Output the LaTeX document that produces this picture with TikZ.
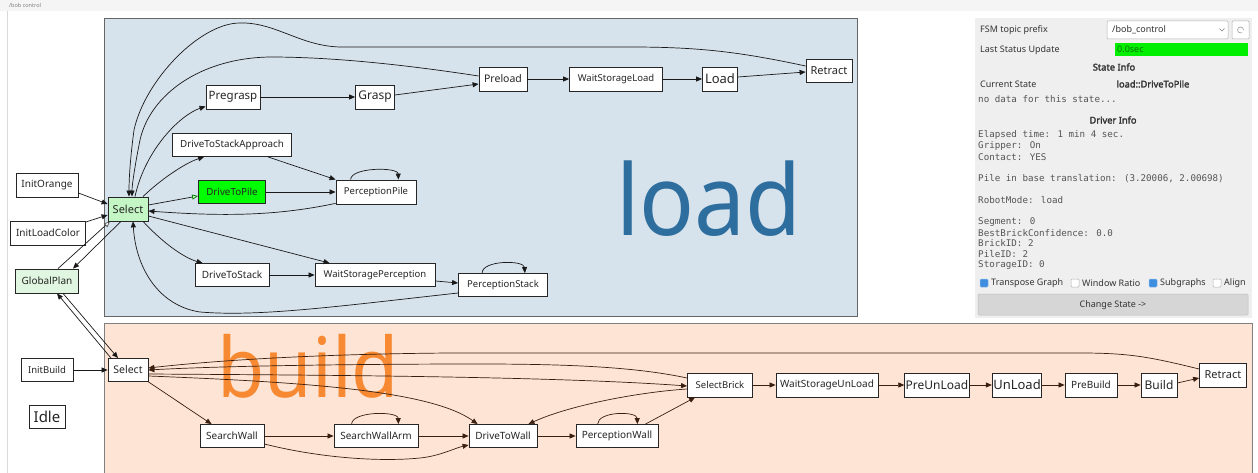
\documentclass[tikz,border=0pt]{standalone}
\usepackage{fontspec}
\setmainfont{Noto Sans}
\newfontfamily\monof{DejaVu Sans Mono}
\newfontfamily\fbold{Noto Sans}[FakeBold=2.2]
\usepackage{graphicx}
\usetikzlibrary{arrows.meta}
\newcommand\fsz[1]{\fontsize{#1}{#1}\selectfont}
\definecolor{loadbg}{HTML}{D6E2EC}
\definecolor{buildbg}{HTML}{FDE4D4}
\definecolor{panelbg}{HTML}{EFEFEF}
\definecolor{loadtxt}{HTML}{2E6E9E}
\definecolor{buildtxt}{HTML}{F7852A}
\definecolor{edgeb}{HTML}{3A1E0E}
\definecolor{selg}{HTML}{C4F5C4}
\definecolor{gpg}{HTML}{E0F6E0}
\definecolor{dtpg}{HTML}{00FF00}
\definecolor{statg}{HTML}{00EE00}
\definecolor{ptxt}{HTML}{333333}
\definecolor{mtxt}{HTML}{555555}
\definecolor{chk}{HTML}{3D8EE0}
\tikzset{
  st/.style={draw=black!85, fill=white, line width=0.8pt, inner sep=1pt,
    minimum height=24pt, font=\fsz{10}, text=black!85},
  e/.style={-{Triangle[length=6pt,width=5pt]}, line width=0.7pt, draw=black!90},
  eb/.style={-{Triangle[length=6pt,width=5pt]}, line width=0.7pt, draw=edgeb},
  ptx/.style={anchor=west, inner sep=0pt, font=\fsz{9}, text=ptxt},
  mtx/.style={anchor=west, inner sep=0pt, font=\monof\fsz{9.2}, text=mtxt},
  bld/.style={inner sep=0pt, font=\fbold\fsz{9.3}, text=ptxt},
  cbx/.style={draw=gray!60, fill=white, line width=0.5pt, rounded corners=1pt},
  cbon/.style={draw=chk!60, fill=chk, line width=0.5pt, rounded corners=1pt}
}
\begin{document}
\begin{tikzpicture}[x=1pt,y=-1pt]
\useasboundingbox (0,0) rectangle (1258,473);
\fill[white] (0,0) rectangle (1258,473);
% title bar
\fill[gray!8] (0,0) rectangle (1258,11);
\node[anchor=west, inner sep=0pt, font=\fsz{5.5}, text=gray] (title) at (9,5.5) {/bob control};
\draw[gray!30, line width=0.6pt] (7,11) -- (7,473);
% clusters
\draw[fill=loadbg, draw=black!60, line width=0.8pt] (104,18) rectangle (857,316);
\draw[fill=buildbg, draw=black!50, line width=0.8pt] (104,323) rectangle (1252,480);
\node[anchor=base west, inner sep=0pt, text=loadtxt, font=\fsz{91}] (loadlbl) at (616,236) {\scalebox{1}[1.08]{load}};
\node[anchor=base west, inner sep=0pt, text=buildtxt, opacity=0.95, font=\fsz{77}] (buildlbl) at (217,397) {\scalebox{1}[1.08]{build}};

% right panel
\fill[panelbg] (975,18) rectangle (1252,318);
\node[ptx] (fsm) at (980,30) {FSM topic prefix};
\draw[cbx] (1107,21) rectangle (1228,39);
\node[ptx] (topic) at (1112,30) {/bob\_control};
\draw[gray, line width=0.5pt] (1219.5,28.5) -- (1222,31) -- (1224.5,28.5);
\draw[cbx] (1232,21) rectangle (1249,39);
\draw[gray!80, line width=0.6pt] (1243.5,30) arc (0:300:3pt);
\node[ptx] (lsu) at (980,50) {Last Status Update};
\fill[statg] (1115,43) rectangle (1248,56);
\node[ptx, text=green!45!black] (sec) at (1117,49.5) {0.0sec};
\node[bld] (si) at (1114,67) {State Info};
\node[ptx] (cs) at (980,84) {Current State};
\node[bld] (cst) at (1153,84) {load::DriveToPile};
\node[mtx] (nd) at (978,99.5) {no data for this state...};
\node[bld] (di) at (1113,120) {Driver Info};
\node[mtx] (m1) at (978,135) {Elapsed time: 1 min 4 sec.};
\node[mtx] (m2) at (978,146) {Gripper: On};
\node[mtx] (m3) at (978,157) {Contact: YES};
\node[mtx] (m4) at (978,179) {Pile in base translation: (3.20006, 2.00698)};
\node[mtx] (m5) at (978,200) {RobotMode: load};
\node[mtx] (m6) at (978,222) {Segment: 0};
\node[mtx] (m7) at (978,232.7) {BestBrickConfidence: 0.0};
\node[mtx] (m8) at (978,243.4) {BrickID: 2};
\node[mtx] (m9) at (978,254.1) {PileID: 2};
\node[mtx] (m10) at (978,264.8) {StorageID: 0};
\draw[cbon] (980,279) rectangle (988,287);
\node[ptx] (c1) at (991,283) {Transpose Graph};
\draw[cbx] (1071,279) rectangle (1079,287);
\node[ptx] (c2) at (1082,283) {Window Ratio};
\draw[cbon] (1149,279) rectangle (1157,287);
\node[ptx] (c3) at (1160,283) {Subgraphs};
\draw[cbx] (1213,279) rectangle (1221,287);
\node[ptx] (c4) at (1224,283) {Align};
\draw[fill=gray!32, draw=gray!50, line width=0.5pt, rounded corners=1pt] (978,294) rectangle (1248,315);
\node[inner sep=0pt, font=\fsz{9}, text=ptxt] (chg) at (1113,305) {Change State ->};

% load cluster nodes
\node[st, fill=selg, minimum width=40pt, font=\fsz{11}] (lsel) at (128,209) {Select};
\node[st, minimum width=54pt, font=\fsz{11.5}] (pregrasp) at (233,97) {Pregrasp};
\node[st, minimum width=39pt, font=\fsz{12}] (grasp) at (375,97) {Grasp};
\node[st, minimum width=48pt, font=\fsz{10.5}] (preload) at (503,79) {Preload};
\node[st, minimum width=93pt, font=\fsz{9.5}] (wsl) at (616,79) {WaitStorageLoad};
\node[st, minimum width=35pt, font=\fsz{13}] (load) at (720,79) {Load};
\node[st, minimum width=46pt, minimum height=23pt, font=\fsz{11}] (lretract) at (829,71) {Retract};
\node[st, minimum width=119pt, minimum height=23pt, font=\fsz{9.8}] (dtsa) at (232,145) {DriveToStackApproach};
\node[st, fill=dtpg, minimum width=67pt, minimum height=23pt, font=\fsz{9.8}] (dtp) at (232,192) {DriveToPile};
\node[st, minimum width=80pt, font=\fsz{9.5}] (ppile) at (376,192) {PerceptionPile};
\node[st, minimum width=74pt, minimum height=23pt, font=\fsz{10}] (dts) at (232,275) {DriveToStack};
\node[st, minimum width=120pt, minimum height=23pt, font=\fsz{9.5}] (wsp) at (375,275) {WaitStoragePerception};
\node[st, minimum width=89pt, minimum height=23pt, font=\fsz{9.5}] (pstack) at (503,285) {PerceptionStack};

% outside nodes
\node[st, minimum width=62pt, font=\fsz{10}] (initorange) at (47,185) {InitOrange};
\node[st, minimum width=75pt, font=\fsz{10}] (initloadcolor) at (48,233) {InitLoadColor};
\node[st, fill=gpg, minimum width=63pt, font=\fsz{10}] (globalplan) at (47,281) {GlobalPlan};
\node[st, minimum width=52pt, minimum height=23pt, font=\fsz{9.5}] (initbuild) at (47,370) {InitBuild};
\node[st, minimum width=36pt, minimum height=23pt, font=\fsz{15}] (idle) at (47,417) {Idle};

% build nodes
\node[st, minimum width=40pt, minimum height=23pt, font=\fsz{10.5}] (bsel) at (128,370) {Select};
\node[st, minimum width=64pt, minimum height=23pt, font=\fsz{10}] (searchwall) at (232,436) {SearchWall};
\node[st, minimum width=84pt, minimum height=23pt, font=\fsz{10}] (swa) at (376,436) {SearchWallArm};
\node[st, minimum width=68pt, minimum height=23pt, font=\fsz{10}] (dtw) at (503,436) {DriveToWall};
\node[st, minimum width=82pt, minimum height=23pt, font=\fsz{10}] (pwall) at (617,436) {PerceptionWall};
\node[st, minimum width=65pt, font=\fsz{9.5}] (selbrick) at (720,385) {SelectBrick};
\node[st, minimum width=102pt, font=\fsz{10}] (wsu) at (827,385) {WaitStorageUnLoad};
\node[st, minimum width=64pt, font=\fsz{12}] (preunload) at (937,385) {PreUnLoad};
\node[st, minimum width=47pt, font=\fsz{13}] (unload) at (1017,385) {UnLoad};
\node[st, minimum width=52pt, font=\fsz{10}] (prebuild) at (1091,385) {PreBuild};
\node[st, minimum width=36pt, font=\fsz{12}] (build) at (1159,385) {Build};
\node[st, minimum width=47pt, font=\fsz{11}] (bretract) at (1223,375) {Retract};

% load edges
\draw[e] ([yshift=5pt]lretract.west) .. controls (740,52) and (700,47) .. (630,47) -- (340,47)
  .. controls (300,46) and (275,22) .. (240,23) .. controls (200,23) and (145,80) .. (134,130)
  .. controls (130,160) and (129,180) .. ([xshift=1pt]lsel.north);
\draw[e] ([yshift=3pt]preload.west) .. controls (400,64) and (330,57) .. (270,57)
  .. controls (200,58) and (150,95) .. (140,140) .. controls (135,165) and (132,185) .. ([xshift=4pt]lsel.north);
\draw[e] ([xshift=7pt]lsel.north) .. controls (145,150) and (180,115) .. ([yshift=3pt]pregrasp.south west);
\draw[e] ([xshift=15pt]lsel.north) .. controls (160,180) and (185,163) .. ([xshift=32pt]dtsa.south west);
\draw[line width=0.7pt, draw=black!90, -{Triangle[length=6pt,width=5pt,fill=green!25,color=green!45!black]}] ([yshift=4pt]lsel.east) -- ([yshift=-4pt]dtp.west);
\draw[e] ([yshift=1pt]ppile.south west) .. controls (280,215) and (230,217) .. ([yshift=-2pt]lsel.east);
\draw[e] ([xshift=-24pt]dtsa.south east) -- (ppile.north west);
\draw[e] (dtp.east) -- (ppile.west);
\draw[e] ([xshift=15pt]ppile.north west) .. controls (351,167) and (398,167) .. ([xshift=-18pt]ppile.north east);
\draw[e] ([xshift=15pt]lsel.south) .. controls (165,245) and (185,258) .. ([xshift=8pt]dts.north west);
\draw[e] ([yshift=-7pt]lsel.east) -- ([xshift=15pt]wsp.north west);
\draw[e] (dts.east) -- (wsp.west);
\draw[e] ([yshift=-6pt]wsp.east) -- ([yshift=2pt]pstack.west);
\draw[e] ([xshift=24pt]pstack.north west) .. controls (482,260) and (524,260) .. ([xshift=-23pt]pstack.north east);
\draw[e] ([yshift=-8pt]pstack.west) .. controls (340,306) and (260,317) .. (200,312)
  .. controls (160,306) and (136,270) .. ([xshift=5pt]lsel.south);
\draw[e] (pregrasp.east) -- (grasp.west);
\draw[e] ([yshift=2pt]grasp.east) -- ([yshift=-5pt]preload.west);
\draw[e] (preload.east) -- (wsl.west);
\draw[e] (wsl.east) -- (load.west);
\draw[e] ([yshift=2pt]load.east) -- ([yshift=-1pt]lretract.west);

% outside edges
\draw[e] ([yshift=-8pt]initorange.east) -- ([yshift=5pt]lsel.west);
\draw[e] ([yshift=11pt]initloadcolor.east) -- ([yshift=-6pt]lsel.west);
\draw[line width=0.7pt, draw=black!90, -{Triangle[length=6pt,width=5pt,fill=white,color=black!70]}] ([xshift=11pt]globalplan.north) -- ([xshift=-18pt]lsel.south);
\draw[e] ([xshift=-7pt]lsel.south) -- ([xshift=26pt]globalplan.north);
\draw[e] ([xshift=-17pt]bsel.north) -- ([xshift=10pt]globalplan.south);
\draw[e] ([xshift=16pt]globalplan.south) -- ([xshift=-10pt]bsel.north);
\draw[e] (initbuild.east) -- (bsel.west);

% build edges
\draw[eb] ([yshift=6pt]bretract.west) .. controls (1150,357) and (1130,353) .. (1080,353) -- (450,353)
  .. controls (320,354) and (220,360) .. ([yshift=2pt]bsel.east);
\draw[eb] ([yshift=7pt]selbrick.west) .. controls (640,368) and (580,364) .. (480,364)
  .. controls (350,364) and (220,366) .. (bsel.east);
\draw[eb] ([yshift=-4pt]bsel.east) .. controls (300,375) and (550,376) .. ([yshift=-1pt]selbrick.west);
\draw[eb] ([yshift=-6pt]bsel.east) .. controls (300,382) and (430,390) .. ([xshift=9pt]dtw.north west);
\draw[eb] (bsel.south east) -- ([xshift=12pt]searchwall.north west);
\draw[eb] (searchwall.east) -- (swa.west);
\draw[eb] ([xshift=18pt]swa.north west) .. controls (352,411) and (398,411) .. ([xshift=-20pt]swa.north east);
\draw[eb] ([yshift=-8pt]searchwall.east) .. controls (320,458) and (380,462) .. (420,458)
  .. controls (440,456) and (455,448) .. ([yshift=-9pt]dtw.west);
\draw[eb] (swa.east) -- (dtw.west);
\draw[eb] (dtw.east) -- (pwall.west);
\draw[eb] ([xshift=22pt]pwall.north west) .. controls (598,411) and (637,411) .. ([xshift=-21pt]pwall.north east);
\draw[eb] ([xshift=-13pt]pwall.north east) -- ([xshift=8pt]selbrick.south west);
\draw[eb] ([yshift=-4pt]selbrick.west) .. controls (640,392) and (570,405) .. ([xshift=-9pt]dtw.north east);
\draw[eb] (selbrick.east) -- (wsu.west);
\draw[eb] (wsu.east) -- (preunload.west);
\draw[eb] (preunload.east) -- (unload.west);
\draw[eb] (unload.east) -- (prebuild.west);
\draw[eb] (prebuild.east) -- (build.west);
\draw[eb] ([yshift=2pt]build.east) -- ([yshift=-3pt]bretract.west);
\end{tikzpicture}
\end{document}
